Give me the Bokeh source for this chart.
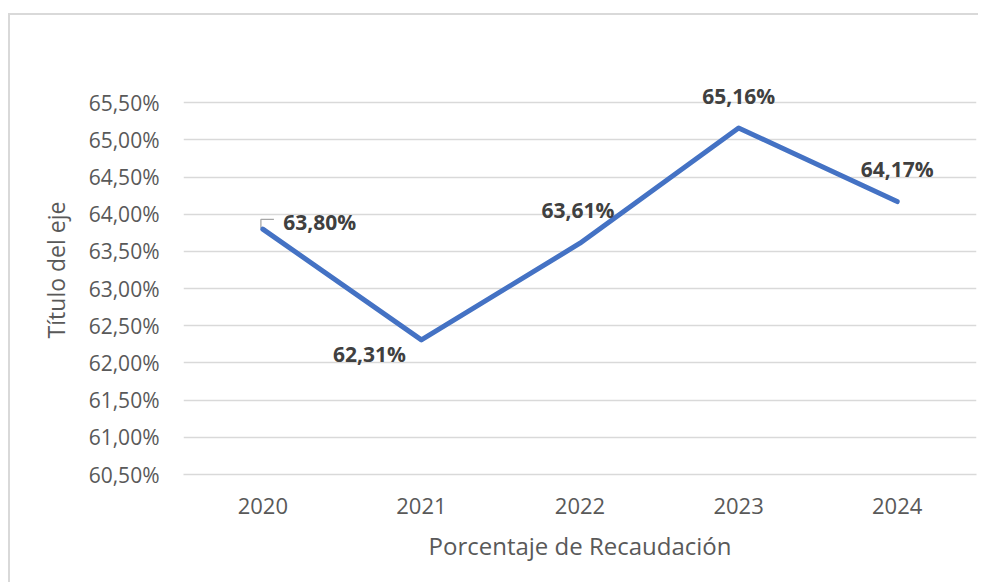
from bokeh.plotting import figure
from bokeh.models import Range1d, FixedTicker, CustomJSTickFormatter, ColumnDataSource
from bokeh.core.properties import value
from bokeh.embed import file_html
from bokeh.resources import INLINE

# ---- data ----
years = ["2020", "2021", "2022", "2023", "2024"]
recaudacion = [63.80, 62.31, 63.61, 65.16, 64.17]
y_ticks = [60.5, 61.0, 61.5, 62.0, 62.5, 63.0, 63.5, 64.0, 64.5, 65.0, 65.5]
x_title = "Porcentaje de Recaudación"
y_title = "Título del eje"

# ---- styling / positions (not data) ----
label_dx = [57, -52, -2, 0, 0]
label_dy = [-7, 14, -33, -32, -33]
FONT = "Open Sans"
Y_HEADROOM = 0.5  # empty space above the top gridline (keeps labels unclipped)

x_idx = list(range(len(years)))
labels = [f"{v:.2f}".replace(".", ",") + "%" for v in recaudacion]

p = figure(width=970, height=569, output_backend="svg", toolbar_location=None,
           x_range=Range1d(-0.5, len(years) - 0.5),
           y_range=Range1d(y_ticks[0], y_ticks[-1] + Y_HEADROOM),
           min_border_left=173, min_border_right=4, min_border_top=50, min_border_bottom=110)
p.styles = {"border-left": "2px solid #d9d9d9", "border-top": "2px solid #d9d9d9",
            "margin-top": "13px", "margin-left": "8px"}
p.outline_line_color = None
p.background_fill_color = "white"
p.border_fill_color = "white"

# axes
p.xaxis.ticker = FixedTicker(ticks=x_idx)
p.xaxis.major_label_overrides = {i: y for i, y in zip(x_idx, years)}
p.xaxis.axis_line_color = "#d9d9d9"
p.xaxis.axis_line_width = 1.5
p.xaxis.major_tick_line_color = None
p.xaxis.minor_tick_line_color = None
p.xaxis.major_label_text_font = FONT
p.xaxis.major_label_text_font_size = "22px"
p.xaxis.major_label_text_color = "#595959"
p.xaxis.major_label_standoff = 17
p.xaxis.axis_label = x_title
p.xaxis.axis_label_text_font = FONT
p.xaxis.axis_label_text_font_size = "24px"
p.xaxis.axis_label_text_font_style = "normal"
p.xaxis.axis_label_text_color = "#595959"
p.xaxis.axis_label_standoff = 12

p.yaxis.ticker = FixedTicker(ticks=y_ticks)
p.yaxis.formatter = CustomJSTickFormatter(code="return tick.toFixed(2).replace('.', ',') + '%';")
p.yaxis.axis_line_color = None
p.yaxis.major_tick_line_color = None
p.yaxis.minor_tick_line_color = None
p.yaxis.major_label_text_font = FONT
p.yaxis.major_label_text_font_size = "21px"
p.yaxis.major_label_text_color = "#595959"
p.yaxis.major_label_standoff = 18
p.yaxis.axis_label = y_title
p.yaxis.axis_label_text_font = FONT
p.yaxis.axis_label_text_font_size = "23px"
p.yaxis.axis_label_text_font_style = "normal"
p.yaxis.axis_label_text_color = "#595959"
p.yaxis.axis_label_standoff = 14

p.xgrid.grid_line_color = None
p.ygrid.grid_line_color = "#d9d9d9"
p.ygrid.grid_line_width = 1.5

# leader line for the first label
x0, v0 = x_idx[0], recaudacion[0]
p.line([x0 - 0.012, x0 - 0.012, x0 + 0.07], [v0 + 0.015, v0 + 0.13, v0 + 0.13],
       line_color="#a6a6a6", line_width=1.3)

src = ColumnDataSource(dict(x=x_idx, y=recaudacion, label=labels, dx=label_dx, dy=label_dy))
p.line("x", "y", source=src, line_color="#4472C4", line_width=5,
       line_cap="round", line_join="round")
p.text("x", "y", text="label", source=src, x_offset="dx", y_offset="dy",
       text_align="center", text_baseline="middle",
       text_font=value(FONT), text_font_size="21px", text_font_style="bold",
       text_color="#404040")

open("out.html", "w").write(file_html(p, INLINE))
